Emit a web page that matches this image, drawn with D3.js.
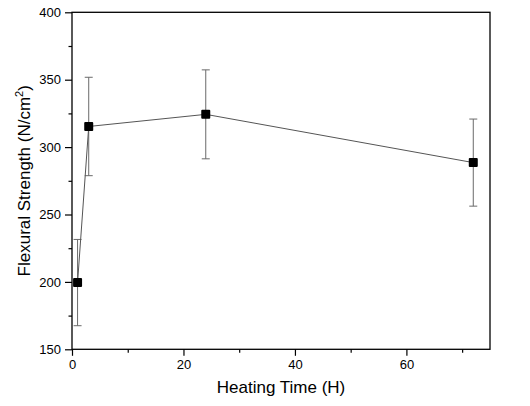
<!DOCTYPE html>
<html><head><meta charset="utf-8">
<script src="https://cdn.jsdelivr.net/npm/d3@7"></script>
<style>body{margin:0;background:#fff;} text{font-family:"Liberation Sans",Arial,sans-serif;fill:#000;}</style>
</head><body>
<svg id="c" width="530" height="406"></svg>
<script>
const heatingTime = [1, 3, 24, 72];
const strength = [199.5, 315.3, 324.3, 288.5];
const errorBar = [32, 36.5, 33, 32.3];
const xTicks = [0, 20, 40, 60];
const yTicks = [150, 200, 250, 300, 350, 400];

const svg = d3.select("#c");
const L = 72, R = 490, T = 12.3, B = 349.3;
const x = d3.scaleLinear().domain([0, 75]).range([L, R]);
const y = d3.scaleLinear().domain([150, 400]).range([B, T]);

// minor ticks
svg.append("g").attr("transform", `translate(0,${B})`)
  .call(d3.axisBottom(x).tickValues(d3.range(10, 75, 20)).tickSize(3.5).tickFormat("").tickSizeOuter(0))
  .call(g => g.select(".domain").remove())
  .call(g => g.selectAll("line").attr("stroke", "#000").attr("stroke-width", 1.2));
svg.append("g").attr("transform", `translate(${L},0)`)
  .call(d3.axisLeft(y).tickValues(d3.range(175, 400, 50)).tickSize(3.5).tickFormat("").tickSizeOuter(0))
  .call(g => g.select(".domain").remove())
  .call(g => g.selectAll("line").attr("stroke", "#000").attr("stroke-width", 1.2));

// major axes
const xa = svg.append("g").attr("transform", `translate(0,${B})`)
  .call(d3.axisBottom(x).tickValues(xTicks).tickSize(6.5).tickPadding(4).tickSizeOuter(0));
const ya = svg.append("g").attr("transform", `translate(${L},0)`)
  .call(d3.axisLeft(y).tickValues(yTicks).tickSize(7).tickPadding(4).tickSizeOuter(0));
[xa, ya].forEach(g => {
  g.select(".domain").remove();
  g.selectAll("line").attr("stroke", "#000").attr("stroke-width", 1.2);
  g.selectAll("text").attr("font-size", 13).attr("fill", "#000")
    .attr("font-family", "'Liberation Sans', Arial, sans-serif");
});

// frame
svg.append("rect").attr("x", L).attr("y", T).attr("width", R - L).attr("height", B - T)
  .attr("fill", "none").attr("stroke", "#000").attr("stroke-width", 1.3);

// error bars
const eb = svg.append("g").attr("stroke", "#6a6a6a").attr("stroke-width", 1);
heatingTime.forEach((t, i) => {
  const cx = x(t), y1 = y(strength[i] + errorBar[i]), y2 = y(strength[i] - errorBar[i]);
  eb.append("line").attr("x1", cx).attr("x2", cx).attr("y1", y1).attr("y2", y2);
  eb.append("line").attr("x1", cx - 4).attr("x2", cx + 4).attr("y1", y1).attr("y2", y1);
  eb.append("line").attr("x1", cx - 4).attr("x2", cx + 4).attr("y1", y2).attr("y2", y2);
});

// line
const pts = heatingTime.map((t, i) => [t, strength[i]]);
svg.append("path").datum(pts)
  .attr("d", d3.line().x(d => x(d[0])).y(d => y(d[1])))
  .attr("fill", "none").attr("stroke", "#555").attr("stroke-width", 1);

// markers
svg.append("g").selectAll("rect").data(pts).join("rect")
  .attr("x", d => x(d[0]) - 4.5).attr("y", d => y(d[1]) - 4.5)
  .attr("width", 9).attr("height", 9).attr("rx", 1).attr("fill", "#000");

// titles
svg.append("text").attr("x", (L + R) / 2).attr("y", 393).attr("fill", "#000")
  .attr("text-anchor", "middle").attr("font-size", 17).text("Heating Time (H)");
const yt = svg.append("text").attr("transform", `translate(30,${(T + B) / 2}) rotate(-90)`)
  .attr("text-anchor", "middle").attr("font-size", 17).attr("fill", "#000");
yt.append("tspan").text("Flexural Strength (N/cm");
yt.append("tspan").attr("font-size", 11).attr("dy", -7).text("2");
yt.append("tspan").attr("dy", 7).text(")");
</script>
</body></html>
